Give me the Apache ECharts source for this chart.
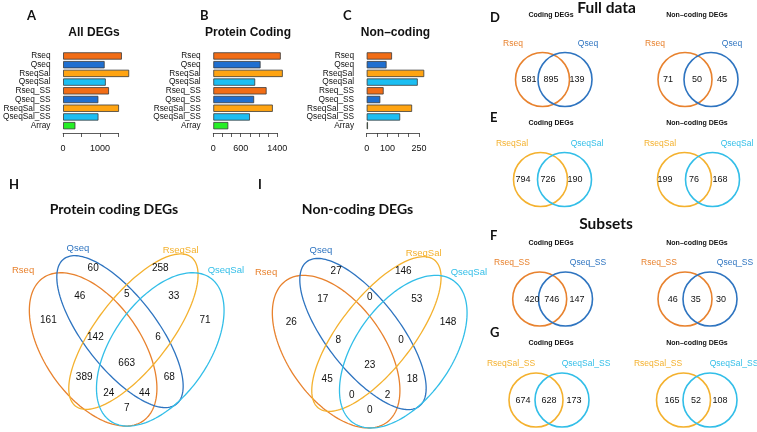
<!DOCTYPE html>
<html><head><meta charset="utf-8">
<script src="https://cdn.jsdelivr.net/npm/echarts@6/dist/echarts.min.js"></script>
<style>html,body{margin:0;padding:0;background:#fff}#c{width:757px;height:432px}</style>
</head><body><div id="c"></div>
<script>
// ---------------- data ----------------
const categories    = ['Rseq','Qseq','RseqSal','QseqSal','Rseq_SS','Qseq_SS','RseqSal_SS','QseqSal_SS','Array'];
const allDEGs       = [1597,1129,1795,1160,1247,958,1519,961,334];
const proteinCoding = [1476,1034,1520,916,1166,893,1302,801,328];
const nonCoding     = [121,95,275,244,81,65,217,160,6];
const tickLabelsA = [0,1000];
const tickLabelsB = [0,600,1400];
const tickLabelsC = [0,100,250];

const pairSets      = [['Rseq','Qseq'],['RseqSal','QseqSal'],['Rseq_SS','Qseq_SS'],['RseqSal_SS','QseqSal_SS']];
const pairCoding    = [[581,895,139],[794,726,190],[420,746,147],[674,628,173]];
const pairNonCoding = [[71,50,45],[199,76,168],[46,35,30],[165,52,108]];

const quadSets      = ['Rseq','Qseq','RseqSal','QseqSal'];
// regions: Q, RS, R&Q, Q&RS, RS&QS, R, QS, R&Q&RS, Q&RS&QS, all, R&RS, Q&QS, R&RS&QS, R&Q&QS, R&QS
const quadCoding    = [60,258,46,5,33,161,71,142,6,663,389,68,24,44,7];
const quadNonCoding = [27,146,17,0,53,26,148,8,0,23,45,18,0,2,0];

// ---------------- styles / layout ----------------
const FONT  = '"Liberation Sans", Arial, sans-serif';
const FONTT = 'Lato, "Open Sans", sans-serif';
const barColors  = ['#F26D16','#1F6FD0','#FFA412','#1CBEF2','#F26D16','#1F6FD0','#FFA412','#1CBEF2','#25EE25'];
const vennColors = ['#E8822E','#2E74C0','#F4B12E','#32BEE8'];

const barPanels = [
  {left:59.3,  width:59,   max:1500, interval:500, labels:tickLabelsA, values:allDEGs},
  {left:213.3, width:64,   max:1400, interval:200, labels:tickLabelsB, values:proteinCoding},
  {left:366.7, width:52.3, max:250,  interval:50,  labels:tickLabelsC, values:nonCoding}
];
const barTop = 51.6, barHeight = 78.4;

const pairLayout = {
  rowY: [79.5,179.5,299,400],
  circleX: [[[542.5,565],[685,711]], [[540.5,564.5],[684.5,712.5]], [[539.7,565.5],[685,710]], [[536,562],[683.5,710]]],
  countX:  [[[529,551,577],[668,697,722]], [[523,548,575],[665,694,720]], [[532,551.7,577],[672.7,695.7,721]], [[523,549,574],[672,696,720]]],
  nameX:   [[[513,588],[655,732]], [[512,587],[660,737]], [[512,588],[659,735]], [[511,586],[658,734]]],
  nameDy: -36.3, r: 27
};
const pairColorIdx = [[0,1],[2,3],[0,1],[2,3]];

const quadEllipses = [[0.35,0.47,0.35,0.20,135],[0.47,0.536,0.37,0.15,135],[0.53,0.536,0.38,0.15,45],[0.65,0.47,0.35,0.20,45]];
const quadLabelPos = [[0.35,0.77],[0.65,0.77],[0.29,0.667],[0.5,0.674],[0.71,0.667],[0.15,0.58],[0.85,0.58],
                      [0.36,0.514],[0.64,0.514],[0.5,0.42],[0.31,0.367],[0.69,0.367],[0.42,0.306],[0.58,0.306],[0.5,0.25]];
const quadNamePos  = [[0.037,0.765],[0.282,0.847],[0.741,0.839],[0.943,0.765]];
const quadGrids = [{left:14.8, top:206.8},{left:257.8, top:209.8}];

// ---------------- build ----------------
const grid = [], xAxis = [], yAxis = [], series = [];
barPanels.forEach((p,i)=>{
  grid.push({left:p.left, top:barTop, width:p.width, height:barHeight});
  xAxis.push({type:'value', gridIndex:i, min:0, max:p.max, interval:p.interval, offset:3,
    axisLine:{show:true, lineStyle:{color:'#333', width:0.8}},
    axisTick:{show:true, length:4, lineStyle:{color:'#333', width:0.8}},
    splitLine:{show:false},
    axisLabel:{fontSize:9, fontFamily:FONT, color:'#111', margin:11, showMinLabel:true, showMaxLabel:true, hideOverlap:false,
      formatter:(v)=> p.labels.indexOf(v)>=0 ? String(v) : ''}});
  yAxis.push({type:'category', gridIndex:i, data:categories, inverse:true,
    axisLine:{show:false}, axisTick:{show:false},
    axisLabel:{interval:0, fontSize:8.3, fontFamily:FONT, color:'#111', margin:12.6}});
  series.push({type:'bar', xAxisIndex:i, yAxisIndex:i, barWidth:7.3, clip:false,
    data:p.values.map((v,k)=>({value:v, itemStyle:{color:barColors[k], borderColor:'#3a3a3a', borderWidth:0.8}}))});
});

// overlay pixel grid for the two-set Venns (index 3)
grid.push({left:0, top:0, width:757, height:432});
xAxis.push({type:'value', gridIndex:3, min:0, max:757, show:false});
yAxis.push({type:'value', gridIndex:3, min:0, max:432, inverse:true, show:false});

const pairCircles = [], pairTexts = [];
pairLayout.rowY.forEach((cy,row)=>{
  [pairCoding[row], pairNonCoding[row]].forEach((counts,col)=>{
    pairLayout.circleX[row][col].forEach((cx,k)=>{
      pairCircles.push({x:cx, y:cy, r:pairLayout.r, color:vennColors[pairColorIdx[row][k]]});
    });
    counts.forEach((n,k)=>{
      pairTexts.push({x:pairLayout.countX[row][col][k], y:cy+0.5, text:String(n), color:'#111', size:9});
    });
    pairSets[row].forEach((name,k)=>{
      pairTexts.push({x:pairLayout.nameX[row][col][k], y:cy+pairLayout.nameDy, text:name, color:vennColors[pairColorIdx[row][k]], size:8.5});
    });
  });
});
series.push({type:'custom', xAxisIndex:3, yAxisIndex:3, data:pairCircles.map(c=>[c.x,c.y]),
  renderItem:(params,api)=>{
    const c = pairCircles[params.dataIndex];
    const p = api.coord([c.x,c.y]); const rr = api.size([c.r,0])[0];
    return {type:'circle', shape:{cx:p[0], cy:p[1], r:rr}, style:{fill:'none', stroke:c.color, lineWidth:1.6}};
  }});
function textSeries(items, xi){
  return {type:'custom', xAxisIndex:xi, yAxisIndex:xi, data:items.map(t=>[t.x,t.y]),
    renderItem:(params,api)=>{
      const t = items[params.dataIndex]; const p = api.coord([t.x,t.y]);
      return {type:'text', x:p[0], y:p[1], style:{text:t.text, fill:t.color, fontSize:t.size, fontFamily:FONT,
        align:'center', verticalAlign:'middle', textAlign:'center', textVerticalAlign:'middle'}};
    }};
}
series.push(textSeries(pairTexts,3));

// four-set Venns (grids 4 and 5)
[quadCoding, quadNonCoding].forEach((counts,j)=>{
  const gi = 4+j;
  grid.push({left:quadGrids[j].left, top:quadGrids[j].top, width:223.8, height:223.3});
  xAxis.push({type:'value', gridIndex:gi, min:0, max:1, show:false});
  yAxis.push({type:'value', gridIndex:gi, min:0.17, max:1, show:false});
  series.push({type:'custom', xAxisIndex:gi, yAxisIndex:gi, data:quadEllipses.map(e=>[e[0],e[1]]),
    renderItem:(params,api)=>{
      const e = quadEllipses[params.dataIndex]; const th = e[4]*Math.PI/180; const pts=[];
      for(let k=0;k<=160;k++){ const t=k/160*2*Math.PI;
        pts.push(api.coord([e[0]+e[2]*Math.cos(t)*Math.cos(th)-e[3]*Math.sin(t)*Math.sin(th),
                            e[1]+e[2]*Math.cos(t)*Math.sin(th)+e[3]*Math.sin(t)*Math.cos(th)])); }
      return {type:'polygon', shape:{points:pts}, style:{fill:'none', stroke:vennColors[params.dataIndex], lineWidth:1.3}};
    }});
  const items = counts.map((n,k)=>({x:quadLabelPos[k][0], y:quadLabelPos[k][1], text:String(n), color:'#111', size:10}));
  quadSets.forEach((s,k)=>items.push({x:quadNamePos[k][0], y:quadNamePos[k][1], text:s, color:vennColors[k], size:9.5}));
  series.push(textSeries(items, gi));
});

// static texts
function T(x,y,text,font,align,color){
  return {type:'text', x:x, y:y, silent:true, style:{text:text, font:font, fill:color||'#111',
    align:align||'center', verticalAlign:'middle', textAlign:align||'center', textVerticalAlign:'middle'}};
}
const LET = 'bold 13px '+FONTT;
const graphics = [
  T(27,16,'A',LET,'left'), T(200,16,'B',LET,'left'), T(343,16,'C',LET,'left'),
  T(94,32.5,'All DEGs','bold 12px '+FONT), T(248,32.5,'Protein Coding','bold 12px '+FONT), T(395.5,32.5,'Non\u2013coding','bold 12px '+FONT),
  T(606.5,8,'Full data','bold 15.5px '+FONTT), T(606,224,'Subsets','bold 15.5px '+FONTT),
  T(490,17.5,'D',LET,'left'), T(490,117.5,'E',LET,'left'), T(490,236,'F',LET,'left'), T(490,332.5,'G',LET,'left'),
  T(9,185,'H',LET,'left'), T(258,185,'I',LET,'left'),
  T(114,209.5,'Protein coding DEGs','bold 14px '+FONTT), T(357.5,209.5,'Non-coding DEGs','bold 14px '+FONTT)
];
[15,123,243,343].forEach(y=>{
  graphics.push(T(551,y,'Coding DEGs','bold 7px '+FONT));
  graphics.push(T(697,y,'Non\u2013coding DEGs','bold 7px '+FONT));
});

const chart = echarts.init(document.getElementById('c'));
chart.setOption({animation:false, backgroundColor:'#fff', grid, xAxis, yAxis, series, graphic:{elements:graphics}});
</script></body></html>
